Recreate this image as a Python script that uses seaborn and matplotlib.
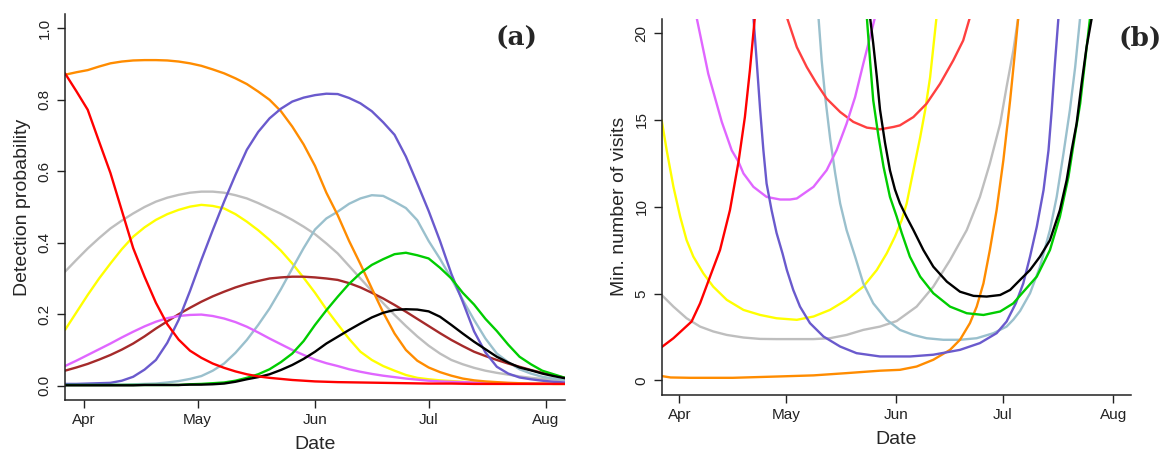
import matplotlib
matplotlib.use("Agg")
import matplotlib.pyplot as plt
import matplotlib.dates as mdates
import pandas as pd
import seaborn as sns

# ---- data -------------------------------------------------------------
start = pd.Timestamp("2015-03-27")

# panel (a): detection probability, read every 3 days from 27 Mar to 6 Aug
days_a = list(range(0, 133, 3))

p_red = [0.874, 0.824, 0.772, 0.683, 0.595, 0.490, 0.385, 0.305, 0.232, 0.172, 0.129, 0.098,
         0.078, 0.062, 0.050, 0.040, 0.032, 0.026, 0.022, 0.019, 0.016, 0.014, 0.012,
         0.011, 0.010, 0.0095, 0.009, 0.0085, 0.008, 0.0075, 0.007, 0.0065, 0.006, 0.006,
         0.006, 0.0055, 0.005, 0.005, 0.005, 0.005, 0.005, 0.005, 0.005, 0.005, 0.005]
p_orange = [0.870, 0.877, 0.883, 0.893, 0.902, 0.907, 0.910, 0.911, 0.911, 0.910, 0.907, 0.902,
            0.895, 0.885, 0.874, 0.860, 0.844, 0.823, 0.800, 0.768, 0.725, 0.675, 0.615,
            0.540, 0.477, 0.405, 0.340, 0.272, 0.205, 0.146, 0.100, 0.070, 0.051, 0.038,
            0.028, 0.020, 0.015, 0.012, 0.010, 0.008, 0.007, 0.006, 0.006, 0.005, 0.005]
p_slateblue = [0.005, 0.005, 0.006, 0.007, 0.008, 0.014, 0.025, 0.045, 0.072, 0.120, 0.184, 0.265,
               0.352, 0.435, 0.515, 0.590, 0.660, 0.710, 0.748, 0.775, 0.795, 0.806, 0.813,
               0.817, 0.816, 0.805, 0.790, 0.768, 0.737, 0.702, 0.641, 0.566, 0.489, 0.405,
               0.313, 0.235, 0.152, 0.093, 0.053, 0.034, 0.023, 0.018, 0.014, 0.011, 0.009]
p_gray = [0.319, 0.352, 0.384, 0.413, 0.440, 0.462, 0.482, 0.500, 0.515, 0.526, 0.534, 0.540,
          0.543, 0.543, 0.540, 0.533, 0.524, 0.511, 0.496, 0.481, 0.464, 0.445, 0.424,
          0.398, 0.370, 0.335, 0.300, 0.265, 0.231, 0.198, 0.167, 0.138, 0.112, 0.090,
          0.072, 0.060, 0.050, 0.042, 0.036, 0.031, 0.026, 0.022, 0.019, 0.017, 0.015]
p_lightblue = [0.003, 0.003, 0.003, 0.003, 0.003, 0.003, 0.004, 0.005, 0.006, 0.009, 0.013, 0.019,
               0.027, 0.042, 0.062, 0.092, 0.128, 0.170, 0.216, 0.270, 0.328, 0.385, 0.437,
               0.468, 0.487, 0.509, 0.524, 0.533, 0.531, 0.515, 0.497, 0.463, 0.405, 0.355,
               0.300, 0.240, 0.184, 0.132, 0.090, 0.066, 0.046, 0.034, 0.025, 0.020, 0.016]
p_yellow = [0.156, 0.205, 0.254, 0.300, 0.342, 0.382, 0.417, 0.443, 0.464, 0.480, 0.492, 0.501,
            0.506, 0.503, 0.496, 0.480, 0.459, 0.435, 0.408, 0.378, 0.342, 0.302, 0.260,
            0.214, 0.172, 0.131, 0.095, 0.072, 0.055, 0.042, 0.030, 0.022, 0.018, 0.015,
            0.013, 0.011, 0.009, 0.008, 0.007, 0.006, 0.006, 0.005, 0.005, 0.005, 0.005]
p_brown = [0.042, 0.051, 0.061, 0.073, 0.086, 0.101, 0.118, 0.138, 0.160, 0.180, 0.200, 0.218,
           0.235, 0.250, 0.263, 0.275, 0.285, 0.293, 0.300, 0.303, 0.305, 0.305, 0.303,
           0.300, 0.296, 0.287, 0.275, 0.260, 0.244, 0.226, 0.207, 0.187, 0.167, 0.147,
           0.128, 0.111, 0.095, 0.083, 0.072, 0.062, 0.053, 0.044, 0.036, 0.029, 0.022]
p_orchid = [0.055, 0.070, 0.086, 0.102, 0.118, 0.135, 0.151, 0.166, 0.179, 0.189, 0.195, 0.198,
            0.199, 0.195, 0.188, 0.178, 0.165, 0.149, 0.132, 0.116, 0.100, 0.086, 0.073,
            0.063, 0.055, 0.046, 0.039, 0.033, 0.028, 0.024, 0.020, 0.017, 0.014, 0.012,
            0.011, 0.010, 0.009, 0.0085, 0.008, 0.0075, 0.007, 0.0065, 0.006, 0.006, 0.006]
p_green = [0.002, 0.002, 0.002, 0.002, 0.002, 0.002, 0.002, 0.002, 0.002, 0.002, 0.002, 0.004,
           0.005, 0.007, 0.009, 0.014, 0.022, 0.032, 0.046, 0.066, 0.090, 0.125, 0.170,
           0.211, 0.249, 0.285, 0.315, 0.338, 0.354, 0.368, 0.372, 0.365, 0.356, 0.330,
           0.300, 0.260, 0.227, 0.187, 0.153, 0.115, 0.081, 0.060, 0.042, 0.032, 0.022]
p_black = [0.001, 0.001, 0.001, 0.001, 0.001, 0.001, 0.001, 0.002, 0.002, 0.002, 0.002, 0.003,
           0.003, 0.004, 0.006, 0.011, 0.018, 0.024, 0.032, 0.044, 0.058, 0.075, 0.095,
           0.118, 0.137, 0.156, 0.174, 0.191, 0.204, 0.212, 0.214, 0.213, 0.208, 0.193,
           0.170, 0.146, 0.123, 0.102, 0.081, 0.065, 0.051, 0.043, 0.034, 0.027, 0.021]

# panel (b): minimum number of visits (day offset from 27 Mar, value)
v_red_d = [0, 3.3, 8.4, 10.8, 13.6, 16.4, 19.2, 21.6, 23.4, 24.8, 26.2]
v_red = [1.92, 2.43, 3.39, 4.44, 5.98, 7.51, 9.81, 12.59, 15.17, 17.85, 20.92]

v_slateblue_d = [25.8, 26.7, 27.7, 28.6, 29.5, 30.9, 32.3, 34.0, 35.2, 37.0, 38.9, 41.7, 45.5,
                 50.2, 54.8, 61.4, 69.9, 76.4, 83.9, 89.5, 94.2, 97.0, 99.6, 101.7, 103.6,
                 105.5, 107.4, 108.8, 109.7, 110.6, 111.6]
v_slateblue = [20.92, 18.43, 15.56, 13.26, 11.34, 9.81, 8.50, 7.30, 6.36, 5.21, 4.25, 3.30, 2.53,
               1.95, 1.57, 1.38, 1.38, 1.48, 1.76, 2.15, 2.72, 3.39, 4.44, 5.59, 7.13,
               8.85, 10.96, 13.26, 15.56, 18.24, 20.92]

v_orchid_d = [9.8, 13.1, 16.9, 19.7, 21.6, 23.0, 25.8, 29.5, 33.3, 36.1, 38.0, 42.7, 46.4,
              49.2, 52.0, 54.4, 56.7, 58.6, 60.0]
v_orchid = [20.92, 17.66, 14.89, 13.25, 12.59, 11.92, 11.15, 10.57, 10.42, 10.42, 10.48, 11.15,
            12.11, 13.26, 14.79, 16.32, 18.24, 19.77, 20.92]

v_yellow_d = [0, 1.4, 3.3, 5.2, 7.0, 8.9, 11.7, 14.5, 18.3, 23.0, 27.7, 32.3, 36.1, 38.0, 42.7,
              47.3, 52.0, 56.7, 60.5, 63.3, 65.6, 67.5, 68.9, 70.8, 72.7, 74.1, 75.5, 76.4, 77.3]
v_yellow = [14.98, 13.26, 11.15, 9.43, 8.08, 7.13, 6.17, 5.40, 4.64, 4.06, 3.77, 3.58, 3.52, 3.49,
            3.68, 4.06, 4.64, 5.40, 6.36, 7.32, 8.28, 9.23, 10.19, 12.10, 14.00, 15.56, 17.47,
            19.20, 20.92]

v_gray_d = [0, 3.3, 7.0, 10.8, 14.5, 18.3, 23.0, 27.7, 32.3, 42.7, 47.3, 52.0, 56.7, 61.4, 66.1,
            69.8, 71.7, 76.4, 81.1, 85.8, 89.5, 92.3, 95.2, 97.0, 98.9, 100.3]
v_gray = [4.92, 4.25, 3.58, 3.10, 2.82, 2.62, 2.47, 2.39, 2.38, 2.38, 2.43, 2.62, 2.91, 3.10, 3.42,
          3.97, 4.25, 5.40, 6.93, 8.66, 10.57, 12.49, 14.79, 16.90, 19.00, 20.92]

v_orange_d = [0, 2.5, 8, 20, 33.3, 42.7, 52.0, 61.4, 67.0, 71.7, 76.4, 81.1, 83.9, 86.7, 88.6,
              90.5, 92.3, 94.2, 96.1, 98.0, 99.4, 100.3]
v_orange = [0.25, 0.17, 0.15, 0.15, 0.23, 0.29, 0.42, 0.56, 0.61, 0.80, 1.19, 1.76, 2.34, 3.30,
            4.25, 5.59, 7.51, 9.81, 12.68, 16.13, 19.00, 20.92]

v_lightred_d = [35.2, 38.0, 40.8, 43.6, 46.4, 50.2, 53.9, 57.7, 61.4, 65.2, 67.0, 70.8, 74.5,
                78.3, 82.0, 84.8, 86.7]
v_lightred = [20.92, 19.20, 18.05, 17.09, 16.23, 15.46, 14.89, 14.56, 14.46, 14.60, 14.69, 15.17,
              15.94, 17.09, 18.43, 19.58, 20.92]

v_lightblue_d = [44.1, 45.0, 46.0, 47.4, 48.8, 50.2, 52.0, 54.4, 56.7, 59.5, 63.3, 67.0, 70.8,
                 74.5, 79.2, 83.9, 88.6, 93.3, 97.0, 98.9, 100.8, 103.6, 106.4, 109.2, 111.1,
                 113.0, 114.8, 116.3, 117.7]
v_lightblue = [20.92, 18.43, 16.30, 13.90, 11.92, 10.19, 8.66, 7.13, 5.59, 4.44, 3.49, 2.91, 2.62,
               2.43, 2.34, 2.34, 2.43, 2.72, 3.10, 3.50, 4.00, 5.02, 6.55, 8.66, 10.57,
               13.06, 15.56, 18.05, 20.92]

v_green_d = [57.7, 58.6, 59.5, 61.0, 62.4, 64.2, 66.1, 67.5, 69.8, 72.7, 76.4, 81.1, 85.8, 90.5,
             95.2, 98.9, 101.7, 105.5, 109.2, 112.0, 114.4, 116.3, 117.7, 119.1, 120.5]
v_green = [20.92, 18.43, 16.13, 14.02, 12.30, 10.57, 9.43, 8.50, 7.13, 5.98, 5.02, 4.25, 3.87,
           3.77, 3.97, 4.44, 5.10, 5.98, 7.51, 9.43, 11.72, 14.21, 15.94, 18.43, 20.92]

v_black_d = [58.6, 59.5, 60.5, 61.4, 62.8, 64.2, 65.6, 67.0, 68.9, 70.8, 73.6, 76.4, 80.2, 83.9,
             87.7, 91.4, 95.2, 98.0, 100.8, 103.6, 106.4, 109.2, 112.0, 113.9, 115.3, 116.7,
             118.1, 119.5, 121.0]
v_black = [20.92, 19.40, 17.50, 15.60, 13.70, 12.10, 11.00, 10.20, 9.40, 8.66, 7.51, 6.55, 5.69,
           5.11, 4.87, 4.83, 4.92, 5.21, 5.79, 6.36, 7.13, 8.08, 9.81, 11.53, 13.26, 14.79,
           17.09, 19.20, 20.92]

colors = {
    "red": "#FF0000", "orange": "#FF8C00", "slateblue": "#6A5ACD", "gray": "#BEBEBE",
    "lightblue": "#9AC0CD", "yellow": "#FFFF00", "brown": "#A52A2A", "orchid": "#E066FF",
    "green": "#00CD00", "black": "#000000", "lightred": "#FF4040",
}

series_a = {"gray": p_gray, "yellow": p_yellow, "lightblue": p_lightblue, "brown": p_brown,
            "orchid": p_orchid, "orange": p_orange, "slateblue": p_slateblue,
            "green": p_green, "black": p_black, "red": p_red}
series_b = {"gray": (v_gray_d, v_gray), "yellow": (v_yellow_d, v_yellow),
            "lightblue": (v_lightblue_d, v_lightblue), "lightred": (v_lightred_d, v_lightred),
            "orchid": (v_orchid_d, v_orchid), "orange": (v_orange_d, v_orange),
            "slateblue": (v_slateblue_d, v_slateblue), "green": (v_green_d, v_green),
            "black": (v_black_d, v_black), "red": (v_red_d, v_red)}

rows = []
for name, vals in series_a.items():
    assert len(vals) == len(days_a), name
    for d, v in zip(days_a, vals):
        rows.append((name, start + pd.Timedelta(days=d), v))
df_a = pd.DataFrame(rows, columns=["sp", "date", "p"])

rows = []
for name, (ds, vals) in series_b.items():
    assert len(ds) == len(vals), name
    for d, v in zip(ds, vals):
        rows.append((name, start + pd.Timedelta(days=d), v))
df_b = pd.DataFrame(rows, columns=["sp", "date", "n"])

# ---- plot -------------------------------------------------------------
sns.set_style("ticks")
plt.rcParams["font.family"] = ["Liberation Sans", "DejaVu Sans"]

fig = plt.figure(figsize=(11.63, 4.57), dpi=100)
ax1 = fig.add_axes([65 / 1163, 1 - 400 / 457, 500 / 1163, 386 / 457])
ax2 = fig.add_axes([661.7 / 1163, 1 - 395 / 457, 469.3 / 1163, 376.4 / 457])

sns.lineplot(data=df_a, x="date", y="p", hue="sp", palette=colors, estimator=None,
             linewidth=1.7, legend=False, ax=ax1)
sns.lineplot(data=df_b, x="date", y="n", hue="sp", palette=colors, estimator=None,
             linewidth=1.7, legend=False, ax=ax2)

ax1.set_ylim(-0.04, 1.04)
ax1.set_yticks([0, 0.2, 0.4, 0.6, 0.8, 1.0])
ax1.set_yticklabels(["0.0", "0.2", "0.4", "0.6", "0.8", "1.0"])
ax1.set_ylabel("Detection probability", fontsize=14, labelpad=5)

ax2.set_ylim(-0.84, 20.84)
ax2.set_yticks([0, 5, 10, 15, 20])
ax2.set_ylabel("Min. number of visits", fontsize=14, labelpad=5)

for ax in (ax1, ax2):
    ax.set_xlim(start, start + pd.Timedelta(days=132))
    ax.xaxis.set_major_locator(mdates.MonthLocator(bymonthday=1))
    ax.xaxis.set_major_formatter(mdates.DateFormatter("%b"))
    ax.set_xlabel("Date", fontsize=14, labelpad=6)
    ax.tick_params(direction="out", length=6, width=1, labelsize=11, colors="#222222")
    for lab in ax.get_yticklabels():
        lab.set_rotation(90)
        lab.set_va("center")
    for s in ("left", "bottom"):
        ax.spines[s].set_linewidth(1.1)
        ax.spines[s].set_color("#222222")
    sns.despine(ax=ax)

fig.text(517 / 1163, 1 - 38 / 457, "(a)", fontsize=19, fontweight="bold",
         family="DejaVu Serif", ha="center", va="center")
fig.text(1140 / 1163, 1 - 38 / 457, "(b)", fontsize=19, fontweight="bold",
         family="DejaVu Serif", ha="center", va="center")

fig.savefig("out.png", dpi=100)
